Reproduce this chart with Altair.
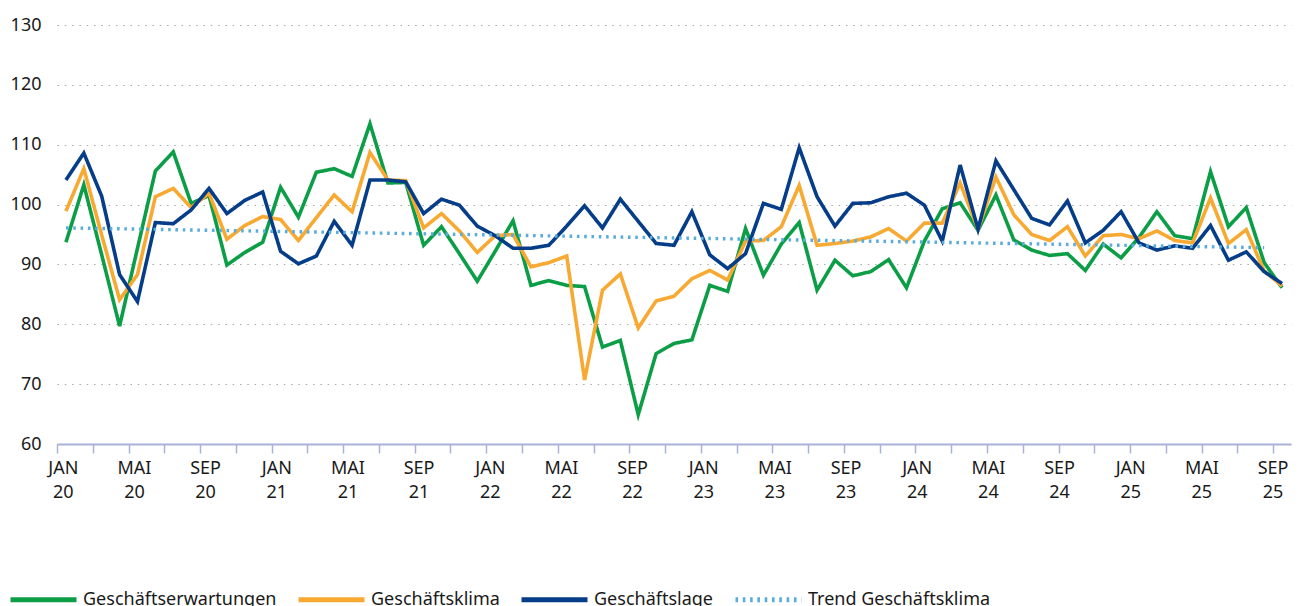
import altair as alt
import pandas as pd

# Monthly data Jan 2020 .. Sep 2025 (index 0..68)
erwartungen = [93.7, 103.3, 91.6, 79.7, 92.7, 105.6, 108.8, 100.2, 101.5, 89.9, 92.0, 93.7,
               102.9, 97.9, 105.4, 106.0, 104.7, 113.5, 103.6, 103.7, 93.2, 96.3, 91.8, 87.2,
               92.2, 97.3, 86.5, 87.3, 86.5, 86.3, 76.2, 77.3, 64.9, 75.1, 76.8, 77.4,
               86.5, 85.5, 96.0, 88.2, 93.4, 97.0, 85.7, 90.7, 88.1, 88.8, 90.8, 86.1,
               93.9, 99.3, 100.3, 95.7, 101.6, 94.1, 92.4, 91.5, 91.8, 89.0, 93.4, 91.1,
               94.5, 98.8, 94.8, 94.3, 105.5, 96.3, 99.5, 90.3, 86.1]
klima = [98.9, 106.0, 94.9, 84.1, 88.3, 101.3, 102.7, 99.5, 101.9, 94.2, 96.5, 98.0,
         97.5, 94.0, 97.8, 101.6, 98.8, 108.7, 104.1, 104.0, 96.1, 98.5, 95.6, 92.0,
         94.8, 95.0, 89.6, 90.3, 91.4, 70.7, 85.7, 88.4, 79.4, 83.9, 84.7, 87.6,
         89.0, 87.4, 93.9, 94.0, 96.3, 103.2, 93.2, 93.5, 93.9, 94.6, 96.0, 93.9,
         96.9, 96.9, 103.6, 95.9, 104.6, 98.3, 95.0, 94.0, 96.3, 91.4, 94.8, 95.0,
         94.3, 95.6, 94.0, 93.6, 101.1, 93.5, 95.8, 88.9, 86.4]
lage = [104.1, 108.6, 101.4, 88.3, 83.8, 97.0, 96.8, 99.1, 102.7, 98.5, 100.7, 102.1,
        92.2, 90.1, 91.4, 97.2, 93.2, 104.1, 104.1, 103.8, 98.5, 100.9, 99.9, 96.4,
        94.8, 92.7, 92.7, 93.2, 96.4, 99.8, 96.1, 100.9, 97.2, 93.5, 93.2, 98.8,
        91.6, 89.3, 91.8, 100.2, 99.2, 109.5, 101.3, 96.4, 100.2, 100.3, 101.3, 101.9,
        99.9, 93.9, 106.6, 95.9, 107.3, 102.5, 97.7, 96.6, 100.6, 93.6, 95.7, 98.8,
        93.6, 92.4, 93.1, 92.7, 96.5, 90.7, 92.1, 88.8, 86.8]
trend_months = [0, 67]
trend_values = [96.1, 92.8]

x_label_pos = list(range(0, 69, 4))
x_labels = ["JAN\n20", "MAI\n20", "SEP\n20", "JAN\n21", "MAI\n21", "SEP\n21",
            "JAN\n22", "MAI\n22", "SEP\n22", "JAN\n23", "MAI\n23", "SEP\n23",
            "JAN\n24", "MAI\n24", "SEP\n24", "JAN\n25", "MAI\n25", "SEP\n25"]
x_tick_values = [-0.5 + 2 * k for k in range(35)]
y_tick_values = [60, 70, 80, 90, 100, 110, 120, 130]

series_names = ["Geschäftserwartungen", "Geschäftsklima", "Geschäftslage", "Trend Geschäftsklima"]
series_colors = ["#0b9e47", "#f8a932", "#063d88", "#5aadda"]
series_dash = [[1, 0], [1, 0], [1, 0], [2.6, 4.7]]

rows = []
for name, vals in zip(series_names[:3], [erwartungen, klima, lage]):
    for i, v in enumerate(vals):
        rows.append({"m": i, "v": v, "s": name})
for m, v in zip(trend_months, trend_values):
    rows.append({"m": m, "v": v, "s": series_names[3]})
df = pd.DataFrame(rows)
labels_df = pd.DataFrame({"m": x_label_pos, "t": x_labels})

FONT = "Noto Sans"

x_enc = alt.X("m:Q",
              scale=alt.Scale(domain=[-0.5, 68.5], nice=False, zero=False),
              axis=alt.Axis(values=x_tick_values, labels=False, title=None, grid=False,
                            domainColor="#aab2da", domainWidth=2, tickColor="#aab2da",
                            tickWidth=1.5, tickSize=9))
y_enc = alt.Y("v:Q",
              scale=alt.Scale(domain=[60, 130], nice=False, zero=False),
              axis=alt.Axis(values=y_tick_values, title=None, domain=False, ticks=False,
                            tickSize=0, labelPadding=16, labelFontSize=18, labelFont=FONT,
                            labelColor="#1a1a1a", grid=True, gridColor="#a8a8a8",
                            gridDash=[1.5, 5.8], gridWidth=1.2))
color_enc = alt.Color("s:N",
                      scale=alt.Scale(domain=series_names, range=series_colors),
                      legend=alt.Legend(title=None, orient="none", direction="horizontal",
                                        legendX=-49, legendY=539, symbolType="stroke",
                                        symbolSize=4356, symbolStrokeWidth=5,
                                        labelFontSize=18, labelFont=FONT, labelColor="#1a1a1a",
                                        labelOffset=4, columnPadding=11, labelLimit=400))
dash_enc = alt.StrokeDash("s:N", scale=alt.Scale(domain=series_names, range=series_dash),
                          legend=None)

base = alt.Chart(df)
layers = []
for name in series_names:
    is_trend = name.startswith("Trend")
    layers.append(
        base.transform_filter(alt.datum.s == name)
        .mark_line(strokeWidth=3.4 if is_trend else 3.6,
                   strokeCap="butt",
                   strokeJoin="miter")
        .encode(x=x_enc, y=y_enc, color=color_enc, strokeDash=dash_enc)
    )
lines = alt.layer(*layers)

# category labels are spread evenly over the axis (slightly different from point positions)
labels = alt.Chart(labels_df).mark_text(
    baseline="top", align="center", lineBreak="\n", lineHeight=24,
    fontSize=18, font=FONT, color="#1a1a1a"
).encode(
    x=alt.X("m:Q", scale=alt.Scale(domain=[-0.354, 69.01], nice=False, zero=False), axis=None),
    y=alt.value(435), text="t:N")

chart = alt.layer(lines, labels).resolve_scale(x="independent").properties(
    width=1234, height=419,
    padding={"left": 49, "top": 17, "right": 2, "bottom": 200},
    autosize="none",
).configure_view(stroke=None)

chart.save("out.html", embed_options={"renderer": "svg", "actions": False})
